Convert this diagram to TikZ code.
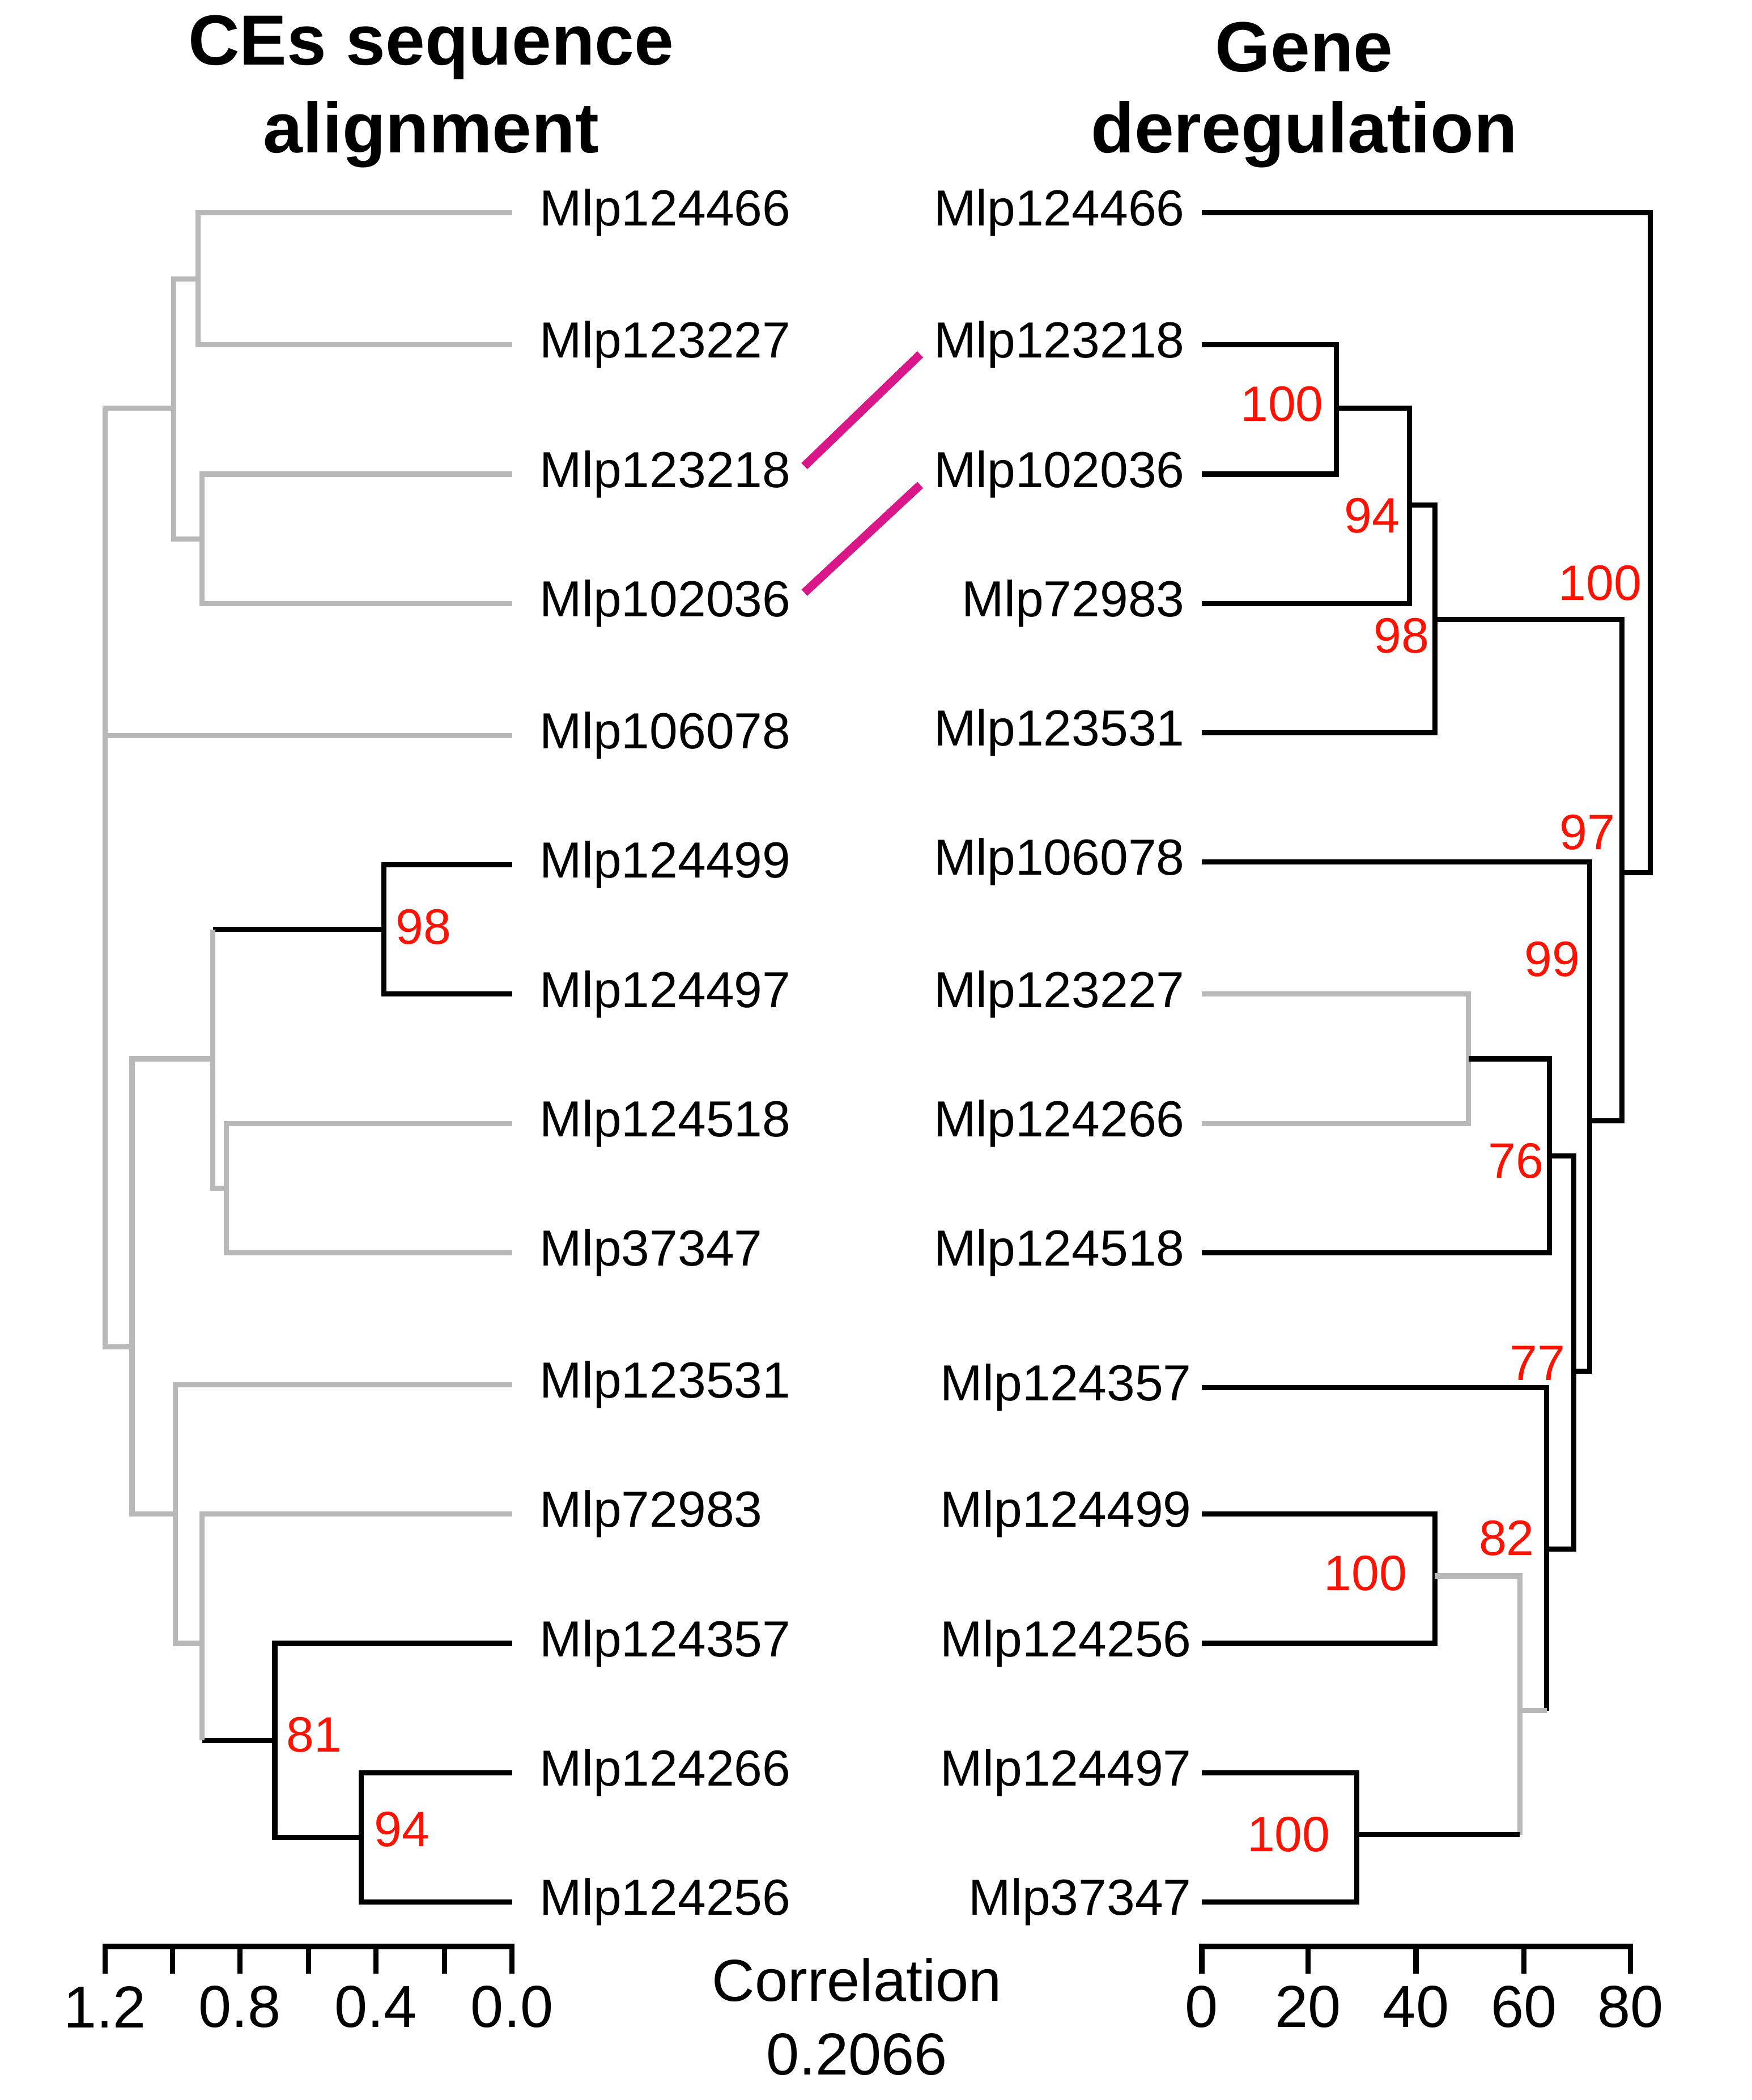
\documentclass[tikz,border=0pt]{standalone}
\usepackage{fontspec}
\setmainfont{Liberation Sans}
\begin{document}
\begin{tikzpicture}[x=0.01cm,y=-0.01cm,
  gr/.style={draw=black!28,line width=1.1pt},
  bk/.style={draw=black,line width=1.1pt},
  lbl/.style={font=\fontsize{10.7}{13}\selectfont,inner sep=0pt},
  bs/.style={font=\fontsize{10.5}{12}\selectfont,text=red!85!orange,inner sep=0pt,anchor=west},
  ttl/.style={font=\bfseries\fontsize{15}{18}\selectfont,inner sep=0pt},
  ax/.style={font=\fontsize{12.5}{15}\selectfont,inner sep=0pt},
  lnk/.style={draw=magenta!80!violet,line width=1.8pt}]
\useasboundingbox (0,0) rectangle (1300,1559);
\node[ttl] (t1) at (320,35) {CEs sequence};
\node[ttl] (t2) at (320,100) {alignment};
\node[ttl] (t3) at (968,35) {Gene};
\node[ttl] (t4) at (968,100) {deregulation};
% left leaves
\foreach \n/\y in {124466/158,123227/256,123218/352,102036/448,106078/546,124499/642,124497/738,124518/834,37347/930,123531/1028,72983/1124,124357/1220,124266/1316,124256/1412}
  \node[lbl,anchor=west] (L\n) at (400,\y) {Mlp\n};
% right leaves
\foreach \n/\y/\x in {124466/158/880,123218/256/880,102036/352/880,72983/448/880,123531/544/880,106078/640/880,123227/738/880,124266/834/880,124518/930/880,124357/1030/885,124499/1124/885,124256/1220/885,124497/1316/885,37347/1412/885}
  \node[lbl,anchor=east] (R\n) at (\x,\y) {Mlp\n};
% left tree
\draw[gr] (380,158)-|(147,256)--(380,256);
\draw[gr] (380,352)-|(150,448)--(380,448);
\draw[gr] (147,207)-|(129,400)--(150,400);
\draw[gr] (129,303)-|(78,1000)--(98,1000);
\draw[gr] (78,546)--(380,546);
\draw[bk] (380,642)-|(285,738)--(380,738);
\draw[bk] (285,690)--(158,690);
\draw[gr] (158,690)--(158,882)--(168,882);
\draw[gr] (380,834)-|(168,930)--(380,930);
\draw[bk] (380,1316)-|(268,1412)--(380,1412);
\draw[bk] (380,1220)-|(204,1364)--(268,1364);
\draw[bk] (204,1292)--(150,1292);
\draw[gr] (150,1292)|-(380,1124);
\draw[gr] (150,1220)-|(130,1028)--(380,1028);
\draw[gr] (130,1124)-|(98,786)--(158,786);
\node[bs] at (293,688) {98};
\node[bs] at (212,1288) {81};
\node[bs] at (277,1358) {94};
% right tree
\draw[bk] (892,158)-|(1225,648)--(1204,648);
\draw[bk] (892,256)-|(992,352)--(892,352);
\draw[bk] (992,303)-|(1046,448)--(892,448);
\draw[bk] (1046,375)-|(1065,544)--(892,544);
\draw[bk] (1065,460)-|(1204,832)--(1180,832);
\draw[bk] (892,640)-|(1180,1018)--(1168,1018);
\draw[gr] (892,738)-|(1090,834)--(892,834);
\draw[bk] (1090,786)-|(1150,930)--(892,930);
\draw[bk] (1150,858)-|(1168,1150)--(1148,1150);
\draw[bk] (892,1030)-|(1148,1270);
\draw[gr] (1148,1270)--(1128,1270);
\draw[bk] (892,1124)-|(1065,1220)--(892,1220);
\draw[bk] (892,1316)-|(1007,1412)--(892,1412);
\draw[gr] (1065,1170)-|(1128,1362);
\draw[bk] (1128,1362)--(1007,1362);
\node[bs] at (920,300) {100};
\node[bs] at (997,383) {94};
\node[bs] at (1019,472) {98};
\node[bs] at (1104,862) {76};
\node[bs] at (982,1168) {100};
\node[bs] at (925,1362) {100};
\node[bs] at (1097,1142) {82};
\node[bs] at (1120,1012) {77};
\node[bs] at (1131,712) {99};
\node[bs] at (1156,433) {100};
\node[bs] at (1157,618) {97};
% links
\draw[lnk] (597,346)--(683,263);
\draw[lnk] (597,440)--(683,360);
% axes
\draw[bk] (78,1465)--(78,1445)--(380,1445)--(380,1465);
\foreach \x in {128,178,229,279,330} \draw[bk] (\x,1445)--(\x,1465);
\foreach \x/\t in {78/1.2,178/0.8,279/0.4,380/0.0} \node[ax] at (\x,1490) {\t};
\draw[bk] (892,1465)--(892,1445)--(1210,1445)--(1210,1465);
\foreach \x in {971,1051,1131} \draw[bk] (\x,1445)--(\x,1465);
\foreach \x/\t in {892/0,971/20,1051/40,1131/60,1210/80} \node[ax] at (\x,1490) {\t};
\node[ax] (c1) at (636,1470) {Correlation};
\node[ax] (c2) at (636,1525) {0.2066};
\end{tikzpicture}
\end{document}
